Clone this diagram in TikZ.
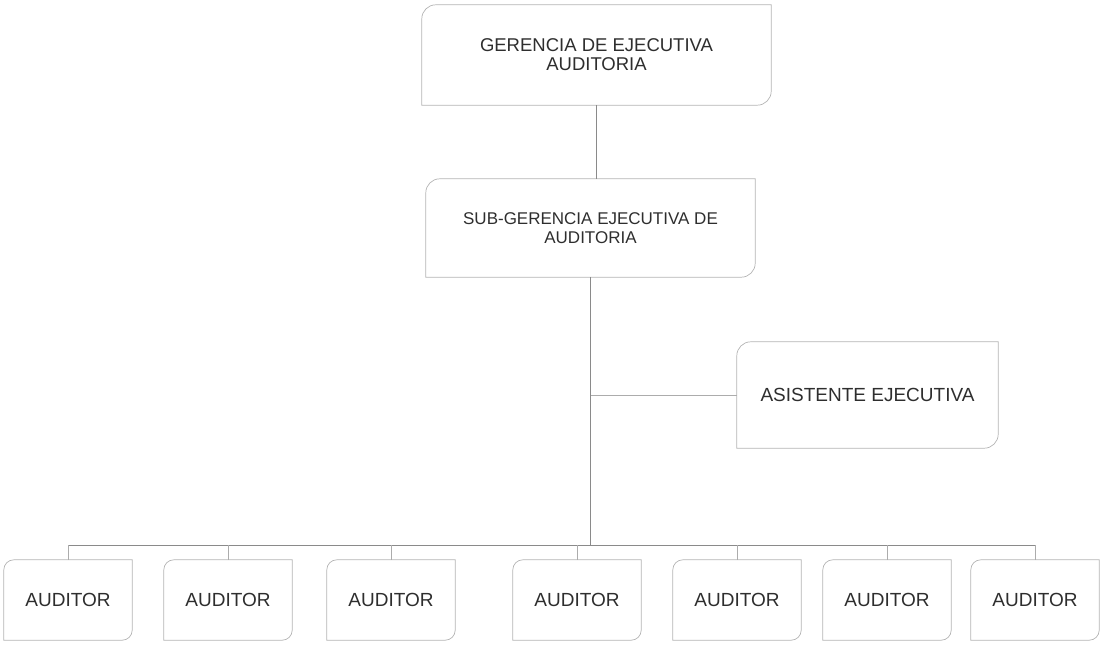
\documentclass[tikz,border=0pt]{standalone}
\usepackage{fontspec}
\setmainfont{Liberation Sans}
\usetikzlibrary{positioning,calc}
\definecolor{boxline}{HTML}{B4B4B4}
\definecolor{trunkline}{HTML}{8A8A8A}
\definecolor{branchline}{HTML}{ACACAC}
\definecolor{labeltext}{HTML}{2E2E2E}

\begin{document}
\begin{tikzpicture}[
    x=1pt, y=-1pt,
    diagbox/.style={align=center, inner sep=0pt, text=labeltext,
        append after command={\pgfextra{\draw[boxline, line width=0.7pt]
            (\tikzlastnode.west) [rounded corners=#1] |- (\tikzlastnode.north)
            [sharp corners] -| (\tikzlastnode.east)
            [rounded corners=#1] |- (\tikzlastnode.south)
            [sharp corners] -| (\tikzlastnode.west);}}},
    diagbox/.default=12pt,
    trunk/.style={trunkline, line width=0.8pt},
    branch/.style={branchline, line width=0.6pt}
]
\useasboundingbox (0,0) rectangle (1110,645);

% Gerencia
\node[diagbox=14pt, minimum width=349pt, minimum height=100pt, font=\fontsize{18.5}{19}\selectfont] (gerencia) at (596.5,55) {GERENCIA DE EJECUTIVA\\AUDITORIA};

% Sub-gerencia
\node[diagbox=14pt, minimum width=329pt, minimum height=98pt, font=\fontsize{17}{18.5}\selectfont] (subger) at (590.5,228) {SUB-GERENCIA EJECUTIVA DE\\AUDITORIA};

% Asistente
\node[diagbox=14pt, minimum width=261pt, minimum height=106pt, font=\fontsize{19}{22}\selectfont] (asist) at (867.5,395) {ASISTENTE EJECUTIVA};

% Auditores
\foreach \x [count=\i] in {68,228,391,577,737,887,1035}
    \node[diagbox=10pt, minimum width=128pt, minimum height=80pt, font=\fontsize{19}{22}\selectfont] (aud\i) at (\x,600) {AUDITOR};

% Lines
\coordinate (bus) at (590.5,545);
\draw[trunk] (gerencia.south) -- (gerencia.south |- subger.north);
\draw[trunk] (subger.south) -- (bus);
\draw[branch] (asist.west) -- (asist.west -| bus);
\draw[trunk] (aud1.north |- bus) -- (aud7.north |- bus);
\foreach \i in {1,...,7}
    \draw[branch] (aud\i.north) -- (aud\i.north |- bus);

\end{tikzpicture}
\end{document}
